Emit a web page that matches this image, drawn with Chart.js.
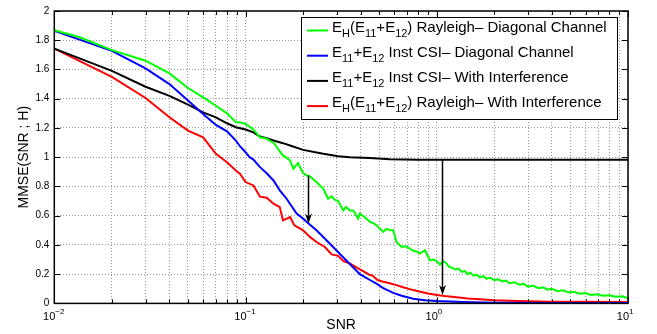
<!DOCTYPE html>
<html>
<head>
<meta charset="utf-8">
<script src="https://cdn.jsdelivr.net/npm/chart.js@4.4.1/dist/chart.umd.min.js"></script>
<style>
  html, body { margin: 0; padding: 0; background: #fff; }
  #chart { display: block; }
</style>
</head>
<body>
<canvas id="chart" width="657" height="334"></canvas>
<script>
// log x axis: grid/tick positions and the labelled decades
var xTicks = [0.01, 0.02, 0.03, 0.04, 0.05, 0.06, 0.07, 0.08, 0.09,
              0.1, 0.2, 0.3, 0.4, 0.5, 0.6, 0.7, 0.8, 0.9,
              1, 2, 3, 4, 5, 6, 7, 8, 9, 10];
var xDecades = [0.01, 0.1, 1, 10];
var xDecadeExps = ['\u22122', '\u22121', '0', '1'];

var seriesLabels = [
    'E_{H}(E_{11}+E_{12}) Rayleigh\u2013 Diagonal Channel',
    'E_{11}+E_{12} Inst CSI\u2013 Diagonal Channel',
    'E_{11}+E_{12} Inst CSI\u2013 With Interference',
    'E_{H}(E_{11}+E_{12}) Rayleigh\u2013 With Interference'
];
var seriesColors = ['#00ff00', '#0000ff', '#000000', '#ff0000'];

// green: E_H(E11+E12) Rayleigh - diagonal channel
var greenSnr = [0.01, 0.0136, 0.02, 0.03, 0.04, 0.05, 0.06, 0.07, 0.08, 0.089, 0.095, 0.1, 0.105, 0.11, 0.119, 0.129, 0.135, 0.14, 0.146, 0.151,
    0.157, 0.164, 0.171, 0.178, 0.183, 0.188, 0.2, 0.209, 0.217, 0.235, 0.245, 0.255, 0.265, 0.27, 0.282, 0.293, 0.305, 0.324, 0.335, 0.351,
    0.366, 0.388, 0.396, 0.41, 0.438, 0.447, 0.465, 0.484, 0.525, 0.545, 0.569, 0.592, 0.616, 0.655, 0.69, 0.723, 0.753, 0.785, 0.816, 0.867,
    0.921, 0.96, 1.0, 1.04, 1.08, 1.12, 1.16, 1.2, 1.25, 1.3, 1.35, 1.4, 1.45, 1.5, 1.56, 1.62, 1.68, 1.75, 1.82, 1.9,
    2.0, 2.1, 2.2, 2.3, 2.4, 2.55, 2.7, 2.85, 3.0, 3.2, 3.4, 3.6, 3.8, 4.0, 4.3, 4.6, 4.9, 5.2, 5.6, 6.0,
    6.4, 6.9, 7.4, 8.0, 8.6, 9.3, 10];
var greenMmse = [1.868, 1.82, 1.732, 1.66, 1.573, 1.473, 1.409, 1.352, 1.30, 1.24, 1.235, 1.228, 1.209, 1.19, 1.136, 1.127, 1.11, 1.1, 1.068, 1.04,
    1.012, 0.995, 0.977, 0.921, 0.94, 0.959, 0.891, 0.875, 0.868, 0.83, 0.807, 0.785, 0.74, 0.716, 0.732, 0.71, 0.70, 0.636, 0.66, 0.636,
    0.636, 0.58, 0.615, 0.60, 0.568, 0.557, 0.55, 0.534, 0.489, 0.51, 0.50, 0.50, 0.42, 0.386, 0.39, 0.375, 0.36, 0.355, 0.341, 0.364,
    0.296, 0.30, 0.29, 0.265, 0.29, 0.275, 0.25, 0.245, 0.232, 0.238, 0.215, 0.222, 0.2, 0.21, 0.19, 0.196, 0.178, 0.186, 0.168, 0.176,
    0.158, 0.165, 0.15, 0.156, 0.138, 0.145, 0.128, 0.134, 0.115, 0.12, 0.104, 0.11, 0.094, 0.1, 0.084, 0.09, 0.074, 0.079, 0.066, 0.071,
    0.058, 0.063, 0.052, 0.056, 0.045, 0.049, 0.036];

// blue: E11+E12 inst CSI - diagonal channel
var blueSnr = [0.01, 0.02, 0.03, 0.04, 0.05, 0.06, 0.07, 0.08, 0.089, 0.0935, 0.1, 0.105, 0.11, 0.119, 0.129, 0.14, 0.151, 0.164, 0.171, 0.185,
    0.2, 0.209, 0.235, 0.265, 0.3, 0.351, 0.396, 0.447, 0.484, 0.525, 0.592, 0.655, 0.753, 0.867, 1.0, 1.37, 2.0, 4.0, 10];
var blueMmse = [1.864, 1.727, 1.607, 1.50, 1.387, 1.296, 1.221, 1.177, 1.114, 1.075, 1.034, 1.0, 0.984, 0.932, 0.89, 0.841, 0.773, 0.716, 0.68, 0.614,
    0.58, 0.557, 0.50, 0.432, 0.36, 0.27, 0.2, 0.16, 0.135, 0.105, 0.072, 0.052, 0.032, 0.022, 0.016, 0.009, 0.005, 0.003, 0.002];

// black: E11+E12 inst CSI - with interference
var blackSnr = [0.01, 0.02, 0.03, 0.04, 0.05, 0.06, 0.07, 0.08, 0.089, 0.1, 0.11, 0.119, 0.129, 0.14, 0.157, 0.171, 0.2, 0.255, 0.305, 0.351,
    0.447, 0.569, 0.8, 1.0, 10];
var blackMmse = [1.743, 1.591, 1.482, 1.42, 1.359, 1.307, 1.273, 1.232, 1.205, 1.189, 1.170, 1.141, 1.13, 1.114, 1.096, 1.08, 1.05, 1.023, 1.007, 1.0,
    0.994, 0.986, 0.982, 0.982, 0.982];

// red: E_H(E11+E12) Rayleigh - with interference
var redSnr = [0.01, 0.02, 0.03, 0.04, 0.05, 0.06, 0.07, 0.08, 0.089, 0.0935, 0.1, 0.11, 0.119, 0.129, 0.14, 0.151, 0.157, 0.171, 0.18, 0.2,
    0.217, 0.235, 0.26, 0.282, 0.305, 0.324, 0.351, 0.388, 0.425, 0.447, 0.462, 0.49, 0.525, 0.56, 0.616, 0.66, 0.753, 0.82, 0.9, 1.0,
    1.1, 1.27, 1.45, 1.68, 2.0, 2.41, 3.0, 3.9, 5.5, 10];
var redMmse = [1.743, 1.55, 1.405, 1.273, 1.182, 1.136, 1.023, 0.966, 0.909, 0.887, 0.83, 0.807, 0.73, 0.723, 0.682, 0.659, 0.568, 0.591, 0.534, 0.50,
    0.455, 0.42, 0.386, 0.335, 0.325, 0.29, 0.273, 0.24, 0.21, 0.194, 0.19, 0.16, 0.148, 0.14, 0.125, 0.112, 0.091, 0.08, 0.068, 0.057,
    0.05, 0.042, 0.034, 0.028, 0.022, 0.018, 0.014, 0.012, 0.011, 0.01];

// annotation arrows (x, from y, to y)
var arrowSnr = [0.213, 1.067];
var arrowFrom = [0.875, 0.982];
var arrowTo = [0.546, 0.057];

var FONT = '"Liberation Sans", Arial, Helvetica, sans-serif';

function toPoints(xs, ys) {
    return xs.map(function (x, i) { return {x: x, y: ys[i]}; });
}

// text with _{...} subscripts, returns end x
function drawRich(ctx, text, x, y, size) {
    var parts = text.split(/_\{([^}]*)\}/);
    parts.forEach(function (p, i) {
        var sub = i % 2 === 1;
        var fs = sub ? Math.round(size * 0.72) : size;
        ctx.font = fs + 'px ' + FONT;
        ctx.fillText(p, x, y + (sub ? Math.round(size * 0.3) : 0));
        x += ctx.measureText(p).width;
    });
    return x;
}

var framePlugin = {
    id: 'frame',
    afterDatasetsDraw: function (chart) {
        var ctx = chart.ctx, a = chart.chartArea;
        var xs = chart.scales.x, ys = chart.scales.y;
        ctx.save();
        ctx.strokeStyle = '#000';
        ctx.fillStyle = '#000';

        // inward tick marks on all four sides
        ctx.lineWidth = 1;
        ctx.beginPath();
        xTicks.forEach(function (v) {
            var px = Math.round(xs.getPixelForValue(v)) + 0.5;
            var len = xDecades.indexOf(v) >= 0 ? 6 : 4;
            ctx.moveTo(px, a.bottom); ctx.lineTo(px, a.bottom - len);
            ctx.moveTo(px, a.top); ctx.lineTo(px, a.top + len);
        });
        ys.ticks.forEach(function (t) {
            var py = Math.round(ys.getPixelForValue(t.value)) + 0.5;
            ctx.moveTo(a.left, py); ctx.lineTo(a.left + 6, py);
            ctx.moveTo(a.right, py); ctx.lineTo(a.right - 6, py);
        });
        ctx.stroke();

        ctx.lineWidth = 1.5;
        ctx.strokeRect(a.left, a.top, a.right - a.left, a.bottom - a.top);

        // arrows
        ctx.lineWidth = 1.5;
        arrowSnr.forEach(function (v, i) {
            var px = Math.round(xs.getPixelForValue(v)) + 0.5;
            var y0 = ys.getPixelForValue(arrowFrom[i]);
            var y1 = ys.getPixelForValue(arrowTo[i]);
            ctx.beginPath();
            ctx.moveTo(px, y0); ctx.lineTo(px, y1 - 4);
            ctx.stroke();
            ctx.beginPath();
            ctx.moveTo(px, y1);
            ctx.lineTo(px - 3.5, y1 - 10);
            ctx.lineTo(px, y1 - 7);
            ctx.lineTo(px + 3.5, y1 - 10);
            ctx.closePath();
            ctx.fill();
        });

        // x tick labels 10^n
        ctx.textBaseline = 'alphabetic';
        ctx.textAlign = 'left';
        xDecades.forEach(function (v, i) {
            var px = xs.getPixelForValue(v);
            ctx.font = '11px ' + FONT;
            var w = ctx.measureText('10').width;
            ctx.fillText('10', px - w + 1, a.bottom + 17);
            ctx.font = '8px ' + FONT;
            ctx.fillText(xDecadeExps[i], px + 1, a.bottom + 11);
        });

        // legend
        var lx = a.right - 327, ly = a.top + 6, lw = 316, lh = 102;
        ctx.fillStyle = '#fff';
        ctx.fillRect(lx, ly, lw, lh);
        ctx.lineWidth = 1;
        ctx.strokeStyle = '#000';
        ctx.strokeRect(lx + 0.5, ly + 0.5, lw, lh);
        chart.data.datasets.forEach(function (ds, i) {
            var ry = ly + 13.5 + i * 25.2;
            ctx.strokeStyle = ds.borderColor;
            ctx.lineWidth = 2;
            ctx.beginPath();
            ctx.moveTo(lx + 6, ry); ctx.lineTo(lx + 27, ry);
            ctx.stroke();
            ctx.fillStyle = '#000';
            drawRich(ctx, ds.label, lx + 31, ry + 1, 15);
        });
        ctx.restore();
    }
};

var ctx = document.getElementById('chart').getContext('2d');
var chart = new Chart(ctx, {
    type: 'line',
    data: {
        datasets: [
            {label: seriesLabels[0], data: toPoints(greenSnr, greenMmse), borderColor: seriesColors[0]},
            {label: seriesLabels[1], data: toPoints(blueSnr, blueMmse), borderColor: seriesColors[1]},
            {label: seriesLabels[2], data: toPoints(blackSnr, blackMmse), borderColor: seriesColors[2]},
            {label: seriesLabels[3], data: toPoints(redSnr, redMmse), borderColor: seriesColors[3]}
        ]
    },
    options: {
        responsive: false,
        animation: false,
        layout: {padding: {top: 10, right: 29, left: 0, bottom: 0}},
        elements: {
            line: {borderWidth: 2, tension: 0, fill: false},
            point: {radius: 0}
        },
        plugins: {legend: {display: false}, tooltip: {enabled: false}},
        scales: {
            x: {
                type: 'logarithmic',
                min: 0.01,
                max: 10,
                afterBuildTicks: function (scale) {
                    scale.ticks = xTicks.map(function (v) { return {value: v}; });
                },
                afterFit: function (scale) { scale.height = 30.6; },
                ticks: {display: false},
                grid: {color: '#9a9a9a', lineWidth: 1, drawTicks: false},
                border: {display: false, dash: [1, 2]},
                title: {display: true, text: 'SNR', color: '#000',
                        font: {family: FONT, size: 14}, padding: {top: 0, bottom: 0}}
            },
            y: {
                min: 0,
                max: 2,
                afterFit: function (scale) { scale.width = 54.3; },
                ticks: {
                    stepSize: 0.2,
                    padding: 5,
                    color: '#000',
                    font: {family: FONT, size: 10},
                    callback: function (v) { return String(Math.round(v * 10) / 10); }
                },
                grid: {color: '#9a9a9a', lineWidth: 1, drawTicks: false},
                border: {display: false, dash: [1, 2]},
                title: {display: true, text: 'MMSE(SNR ; H)', color: '#000',
                        font: {family: FONT, size: 14}, padding: {top: 16, bottom: 0}}
            }
        }
    },
    plugins: [framePlugin]
});
</script>
</body>
</html>
